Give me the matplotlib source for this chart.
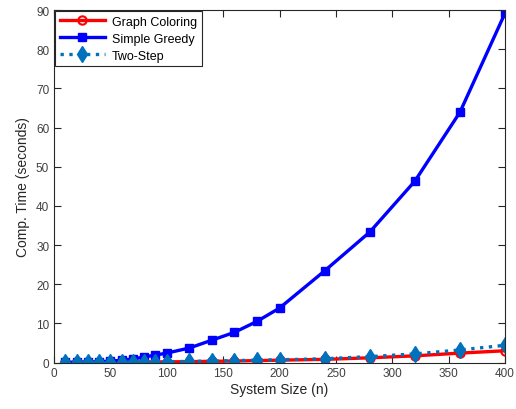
import matplotlib
matplotlib.use("Agg")
import matplotlib.pyplot as plt

plt.rcParams['font.family'] = ['Liberation Sans', 'DejaVu Sans']

n = [10, 20, 30, 40, 50, 60, 70, 80, 90, 100, 120, 140, 160, 180, 200, 240, 280, 320, 360, 400]
graph_coloring = [0.02, 0.03, 0.04, 0.05, 0.07, 0.08, 0.1, 0.12, 0.14, 0.16, 0.22, 0.3, 0.38, 0.48, 0.6, 0.8, 1.2, 1.7, 2.4, 3.0]
simple_greedy = [0.03, 0.06, 0.12, 0.2, 0.35, 0.6, 0.9, 1.4, 1.9, 2.4, 3.7, 5.7, 7.7, 10.5, 13.9, 23.4, 33.3, 46.3, 63.9, 89.2]
two_step = [0.02, 0.03, 0.05, 0.06, 0.08, 0.1, 0.12, 0.15, 0.17, 0.2, 0.28, 0.38, 0.48, 0.6, 0.7, 0.95, 1.5, 2.2, 3.2, 4.4]

fig = plt.figure(figsize=(5.16, 4.10), dpi=100)
ax = fig.add_axes([0.1047, 0.1134, 0.874, 0.8596])

ax.plot(n, graph_coloring, color='#FF0000', lw=2.4, marker='o', ms=6,
        mfc='none', mec='#FF0000', mew=1.5, label='Graph Coloring')
ax.plot(n, simple_greedy, color='#0000FF', lw=2.4, marker='s', ms=6,
        mfc='#0000FF', mec='#0000FF', label='Simple Greedy')
ax.plot(n, two_step, color='#0072BD', lw=2.4, ls=':', marker='d', ms=8,
        mfc='#0072BD', mec='#0072BD', label='Two-Step')

ax.set_xlim(0, 400)
ax.set_ylim(0, 90)
ax.set_xticks(range(0, 401, 50))
ax.set_yticks(range(0, 91, 10))
ax.tick_params(direction='in', top=True, right=True, length=5, width=0.8,
               colors='#262626', labelsize=8.5, labelcolor='#404040')
for s in ax.spines.values():
    s.set_color('#262626')
    s.set_linewidth(0.8)

ax.set_xlabel('System Size (n)', fontsize=10, color='#262626', labelpad=2)
ax.set_ylabel('Comp. Time (seconds)', fontsize=10, color='#262626', labelpad=4)

leg = ax.legend(loc='upper left', fontsize=9, fancybox=False, framealpha=1,
                edgecolor='#262626', borderaxespad=0.1, handlelength=3.6,
                labelspacing=0.4, borderpad=0.35, handletextpad=0.6)
leg.get_frame().set_linewidth(0.8)

fig.savefig('out.png', dpi=100)
